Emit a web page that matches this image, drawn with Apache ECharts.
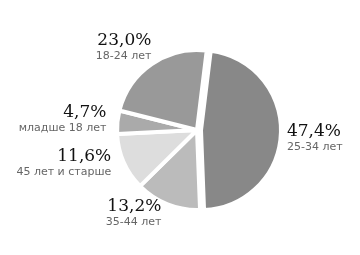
<!DOCTYPE html>
<html><head><meta charset="utf-8">
<script src="https://cdn.jsdelivr.net/npm/echarts@6/dist/echarts.min.js"></script>
<style>html,body{margin:0;padding:0;background:#fff}#c{width:360px;height:255px}</style>
</head><body><div id="c"></div>
<script>
var categories = ['25-34 лет', '35-44 лет', '45 лет и старше', 'младше 18 лет', '18-24 лет'];
var values = [47.4, 13.2, 11.6, 4.7, 23.0];
var colors = ['#888888', '#bbbbbb', '#dddddd', '#aaaaaa', '#999999'];
var exploded = [true, false, false, false, false];
var labelOffsets = [[-5, 5], [1, 4], [-2, -1], [0, -2], [8, -11]];

var chart = echarts.init(document.getElementById('c'), null, {renderer: 'canvas'});
chart.setOption({
  animation: false,
  series: [{
    type: 'pie',
    center: [197, 130],
    radius: [0, 80],
    startAngle: 83,
    clockwise: true,
    selectedMode: 'single',
    selectedOffset: 4,
    avoidLabelOverlap: false,
    itemStyle: {borderColor: '#fff', borderWidth: 4},
    label: {
      show: true,
      position: 'outside',
      formatter: function (p) {
        return '{p|' + p.value.toFixed(1).replace('.', ',') + '%}\n{n|' + p.name + '}';
      },
      rich: {
        p: {fontFamily: 'DejaVu Serif', fontSize: 17, color: '#111', lineHeight: 17},
        n: {fontFamily: 'DejaVu Sans', fontSize: 11, color: '#666', lineHeight: 14}
      }
    },
    labelLine: {show: false, length: 6, length2: 0},
    emphasis: {disabled: true},
    data: categories.map(function (c, i) {
      return {name: c, value: values[i], selected: exploded[i],
        itemStyle: {color: colors[i]}, label: {offset: labelOffsets[i]},
        select: {itemStyle: {color: colors[i], borderColor: '#fff', borderWidth: 4},
                 label: {offset: labelOffsets[i]}}};
    })
  }]
});
</script></body></html>
